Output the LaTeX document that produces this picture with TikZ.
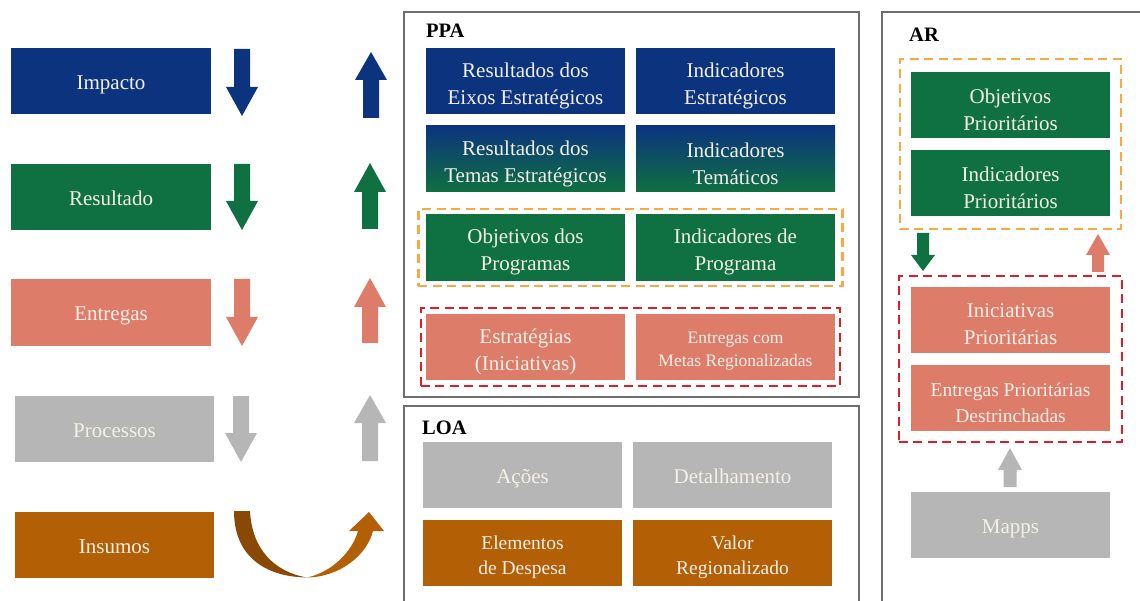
\documentclass[tikz,border=0pt]{standalone}
\usepackage{fontspec}
\setmainfont{Liberation Serif}
\usetikzlibrary{fit}
\definecolor{navy}{HTML}{0C347E}
\definecolor{dgreen}{HTML}{0F7041}
\definecolor{salmon}{HTML}{DE7C6A}
\definecolor{lgray}{HTML}{B6B6B6}
\definecolor{insor}{HTML}{B35F06}
\definecolor{darkbr}{HTML}{8A4805}
\definecolor{txtw}{HTML}{F4F0E8}
\definecolor{framec}{HTML}{6E6E6E}
\definecolor{dorange}{HTML}{F9A941}
\definecolor{dred}{HTML}{DC1F27}
\newcommand{\blockarr}[7]{%
  \fill[#1] ({#2-#6},#3) -- ({#2+#6},#3) -- ({#2+#6},#4) -- ({#2+#7},#4) -- (#2,#5) -- ({#2-#7},#4) -- ({#2-#6},#4) -- cycle;}
\tikzset{
  blk/.style={minimum width=199, minimum height=66, inner sep=0},
  lblk/.style={blk, minimum width=200},
  lbl/.style={align=center, text=txtw, inner sep=0, yshift=-4.5, font=\fontsize{21}{27}\selectfont},
  lblone/.style={align=center, text=txtw, inner sep=0, text height=19, text depth=2, font=\fontsize{21}{27}\selectfont},
  smallt/.style={font=\fontsize{19.5}{25}\selectfont},
  framebox/.style={draw=framec, line width=2},
  title/.style={font=\fontsize{20.5}{24}\selectfont\bfseries, anchor=base west, inner sep=0, text=black},
  dashbox/.style={draw, line width=2.5, dash pattern=on 9 off 5.5},
}
\begin{document}
\begin{tikzpicture}[x=1pt,y=-1pt]
\useasboundingbox (0,0) rectangle (1140,601);
\clip (0,0) rectangle (1140,601);
% left column
\node[lblk, fill=navy, label={[lblone]center:Impacto}] (impacto) at (111,81) {};
\node[lblk, fill=dgreen, label={[lblone]center:Resultado}] (resultado) at (111,197) {};
\node[lblk, fill=salmon, minimum height=67, label={[lblone]center:Entregas}] (entregas) at (111,312.5) {};
\node[blk, fill=lgray, label={[lblone]center:Processos}] (processos) at (114.5,429) {};
\node[blk, fill=insor, label={[lblone]center:Insumos}] (insumos) at (114.5,545) {};
% down arrows
\blockarr{navy}{242}{49}{87}{116}{8}{16}
\blockarr{dgreen}{242}{164}{201}{230}{8}{16}
\blockarr{salmon}{242}{279}{317}{346}{8}{16}
\blockarr{lgray}{241}{396}{433}{462}{8}{16}
% up arrows
\blockarr{navy}{371}{118}{80}{52}{8}{16}
\blockarr{dgreen}{370}{229}{192}{163}{8}{16}
\blockarr{salmon}{370}{343}{307}{278}{8}{16}
\blockarr{lgray}{370}{461}{423}{395}{8}{16}
% curved arrow
\fill[darkbr] (234,511) -- (250,511) .. controls (252,550) and (275,572) .. (307,577.5)
  .. controls (270,577) and (234,560) .. (234,511) -- cycle;
\fill[insor] (307,577.5) .. controls (340,577) and (367,555) .. (373,531) -- (384,531) -- (369,512)
  -- (349,531) -- (358,531) .. controls (352,552) and (332,572) .. (307,577.5) -- cycle;
% PPA
\draw[framebox] (404,12) rectangle (859,397);
\node[title] (ppa) at (426,38) {PPA};
\node[blk, fill=navy, label={[lbl]center:{Resultados dos\\Eixos Estratégicos}}] (rei) at (525.5,81) {};
\node[blk, fill=navy, label={[lbl]center:{Indicadores\\Estratégicos}}] (ie) at (735.5,81) {};
\node[blk, top color=navy, bottom color=dgreen, label={[lbl]center:{Resultados dos\\Temas Estratégicos}}] (rte) at (525.5,159) {};
\node[blk, top color=navy, bottom color=dgreen, label={[lbl]center:{Indicadores\\Temáticos}}] (it) at (735.5,159) {};
\node[blk, fill=dgreen, minimum height=67, label={[lbl]center:{Objetivos dos\\Programas}}] (op) at (525.5,247.5) {};
\node[blk, fill=dgreen, minimum height=67, label={[lbl]center:{Indicadores de\\Programa}}] (ip) at (735.5,247.5) {};
\node[blk, fill=salmon, label={[lbl]center:{Estratégias\\(Iniciativas)}}] (est) at (525.5,347) {};
\node[blk, fill=salmon, label={[lbl, font=\fontsize{17.5}{23}\selectfont]center:{Entregas com\\Metas Regionalizadas}}] (emr) at (735.5,347) {};
\node[dashbox, draw=dorange, fit=(op)(ip), inner xsep=7.5, inner ysep=5] (ppaor) {};
\node[dashbox, draw=dred, fit=(est)(emr), inner xsep=5, inner ysep=6] (ppared) {};
% LOA
\draw[framebox] (404,406) rectangle (859,620);
\node[title] (loa) at (422,434) {LOA};
\node[blk, fill=lgray, label={[lblone]center:Ações}] (acoes) at (522.5,475) {};
\node[blk, fill=lgray, label={[lblone]center:Detalhamento}] (det) at (732.5,475) {};
\node[blk, fill=insor, label={[lbl, smallt]center:{Elementos\\de Despesa}}] (eld) at (522.5,553) {};
\node[blk, fill=insor, label={[lbl, smallt]center:{Valor\\Regionalizado}}] (vr) at (732.5,553) {};
% AR
\draw[framebox] (882,12) rectangle (1160,620);
\node[title] (ar) at (909,42) {AR};
\node[blk, fill=dgreen, label={[lbl]center:{Objetivos\\Prioritários}}] (objp) at (1010.5,105) {};
\node[blk, fill=dgreen, label={[lbl]center:{Indicadores\\Prioritários}}] (indp) at (1010.5,183) {};
\node[blk, fill=salmon, label={[lbl]center:{Iniciativas\\Prioritárias}}] (inip) at (1010.5,320) {};
\node[blk, fill=salmon, label={[lbl, font=\fontsize{19.5}{26}\selectfont]center:{Entregas Prioritárias\\Destrinchadas}}] (entp) at (1010.5,398) {};
\node[blk, fill=lgray, label={[lblone]center:Mapps}] (mapps) at (1010.5,525) {};
\node[dashbox, draw=dorange, fit=(objp)(indp), inner xsep=11, inner ysep=13] (aror) {};
\node[dashbox, draw=dred, fit=(inip)(entp), inner xsep=12, inner ysep=11] (arred) {};
\blockarr{dgreen}{923}{233}{255}{271}{6}{12}
\blockarr{salmon}{1098}{272}{255}{234}{6}{12}
\blockarr{lgray}{1010}{487}{470}{448}{6.5}{12}
\end{tikzpicture}
\end{document}
